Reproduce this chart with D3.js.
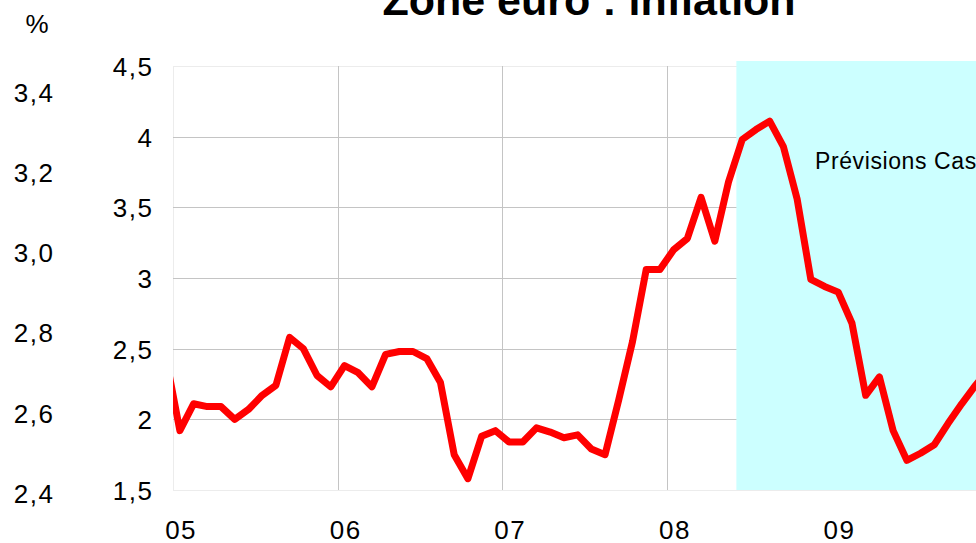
<!DOCTYPE html>
<html><head><meta charset="utf-8">
<script src="https://cdn.jsdelivr.net/npm/d3@7"></script>
<style>
body{margin:0;background:#fff;overflow:hidden;}
svg{display:block;font-family:"Liberation Sans",Arial,sans-serif;}
</style>
</head><body>
<svg id="chart" width="976" height="543"></svg>
<script>
// ---- data ----
const title = "Zone euro : inflation";
const unitLabel = "%";
const forecastLabel = "Prévisions Casa";
const firstMonth = "2004-12";          // month of the first value
const forecastStart = "2008-06";       // first month of the shaded forecast zone
const inflation = [
  2.43,
  1.92, 2.11, 2.09, 2.09, 2.00, 2.07, 2.17, 2.24, 2.58, 2.50, 2.31, 2.23,
  2.38, 2.33, 2.23, 2.46, 2.48, 2.48, 2.43, 2.26, 1.75, 1.58, 1.88, 1.92,
  1.84, 1.84, 1.94, 1.91, 1.87, 1.89, 1.79, 1.75, 2.14, 2.55, 3.06, 3.06,
  3.20, 3.28, 3.57, 3.26, 3.68, 3.98, 4.05, 4.11, 3.93, 3.56, 2.99, 2.94,
  2.90, 2.68, 2.17, 2.30, 1.92, 1.71, 1.76, 1.82, 1.97, 2.11, 2.24, 2.36
];
const yTicks = [1.5, 2, 2.5, 3, 3.5, 4, 4.5];
const outerTicks = [2.4, 2.6, 2.8, 3.0, 3.2, 3.4];
const years = [2005, 2006, 2007, 2008, 2009];
const yearLabels = ["05", "06", "07", "08", "09"];

// ---- helpers ----
const fmt = v => String(v).replace(".", ",");
const monthIndex = s => { const [y, m] = s.split("-").map(Number); return (y - 2005) * 12 + (m - 1); };
const start = monthIndex(firstMonth);
const series = inflation.map((v, i) => ({ m: start + i, v }));
const FONT = '"Liberation Sans",Arial,sans-serif';
const LS = 1.5; // letter spacing for tick labels

// ---- layout ----
const svg = d3.select("#chart");
const plot = { left: 173, top: 66, right: 996, bottom: 490 };

const x = d3.scaleLinear().domain([0, 60]).range([plot.left, plot.right]);
const y = d3.scaleLinear().domain([1.5, 4.5]).range([plot.bottom, plot.top]);
const yOuter = d3.scaleLinear().domain([2.4, 3.4]).range([493, 92]);

svg.append("defs").append("clipPath").attr("id", "clip")
  .append("rect").attr("x", plot.left).attr("y", plot.top - 10)
  .attr("width", plot.right - plot.left).attr("height", plot.bottom - plot.top + 10);

// plot border (very light)
svg.append("rect").attr("x", plot.left + 0.5).attr("y", plot.top + 0.5)
  .attr("width", plot.right - plot.left).attr("height", plot.bottom - plot.top)
  .attr("fill", "#fff").attr("stroke", "#ececec").attr("stroke-width", 1);

// horizontal gridlines
svg.append("g").selectAll("line").data(yTicks.filter(t => t > 1.5 && t < 4.5)).join("line")
  .attr("x1", plot.left).attr("x2", plot.right)
  .attr("y1", d => Math.round(y(d)) + 0.5).attr("y2", d => Math.round(y(d)) + 0.5)
  .attr("stroke", "#c4c4c4").attr("stroke-width", 1);

// vertical gridlines at year boundaries
svg.append("g").selectAll("line").data(years.slice(1)).join("line")
  .attr("x1", d => Math.round(x((d - 2005) * 12)) + 0.5).attr("x2", d => Math.round(x((d - 2005) * 12)) + 0.5)
  .attr("y1", plot.top).attr("y2", plot.bottom)
  .attr("stroke", "#c4c4c4").attr("stroke-width", 1);

// forecast zone
const fs = monthIndex(forecastStart);
svg.append("rect")
  .attr("x", x(fs) + 1).attr("y", plot.top - 5)
  .attr("width", plot.right - x(fs)).attr("height", plot.bottom - plot.top + 5)
  .attr("fill", "#ccffff");

// forecast label
svg.append("text").attr("x", 815).attr("y", 169)
  .attr("font-size", 23).attr("letter-spacing", 0.6).attr("fill", "#000").text(forecastLabel);

// inflation line
const line = d3.line().x(d => x(d.m + 0.5)).y(d => y(d.v));
svg.append("path").datum(series)
  .attr("clip-path", "url(#clip)")
  .attr("d", line)
  .attr("fill", "none").attr("stroke", "#ff0000")
  .attr("stroke-width", 7).attr("stroke-linejoin", "round").attr("stroke-linecap", "round");

// inner y axis
const yAxis = d3.axisLeft(y).tickValues(yTicks).tickFormat(fmt).tickSize(0).tickPadding(21 - LS);
const gy = svg.append("g").attr("transform", `translate(${plot.left},0)`).call(yAxis);
gy.select(".domain").remove();
gy.selectAll("text").attr("font-size", 26).attr("fill", "#000").attr("letter-spacing", LS)
  .attr("font-family", FONT).attr("dy", "0.36em");

// outer y axis (labels only)
const yAxis2 = d3.axisLeft(yOuter).tickValues(outerTicks).tickFormat(d => d3.format(".1f")(d).replace(".", ",")).tickSize(0).tickPadding(0);
const gy2 = svg.append("g").attr("transform", `translate(${53 + LS},0)`).call(yAxis2);
gy2.select(".domain").remove();
gy2.selectAll("text").attr("font-size", 26).attr("fill", "#000").attr("letter-spacing", LS)
  .attr("font-family", FONT).attr("dy", "0.36em");

// unit label
svg.append("text").attr("x", 37).attr("y", 33).attr("text-anchor", "middle")
  .attr("font-size", 26).attr("fill", "#000").text(unitLabel);

// x axis labels
const xAxis = d3.axisBottom(x)
  .tickValues(years.map(yy => (yy - 2005) * 12 + 0.5))
  .tickFormat((d, i) => yearLabels[i]).tickSize(0).tickPadding(0);
const gx = svg.append("g").attr("transform", `translate(${LS / 2},${plot.bottom})`).call(xAxis);
gx.select(".domain").remove();
gx.selectAll("text").attr("font-size", 26).attr("fill", "#000").attr("letter-spacing", LS)
  .attr("font-family", FONT).attr("dy", null).attr("y", 49);

// title
svg.append("text").attr("x", 589).attr("y", 15).attr("text-anchor", "middle")
  .attr("font-size", 43).attr("font-weight", "bold").attr("fill", "#000").text(title);
</script>
</body></html>
